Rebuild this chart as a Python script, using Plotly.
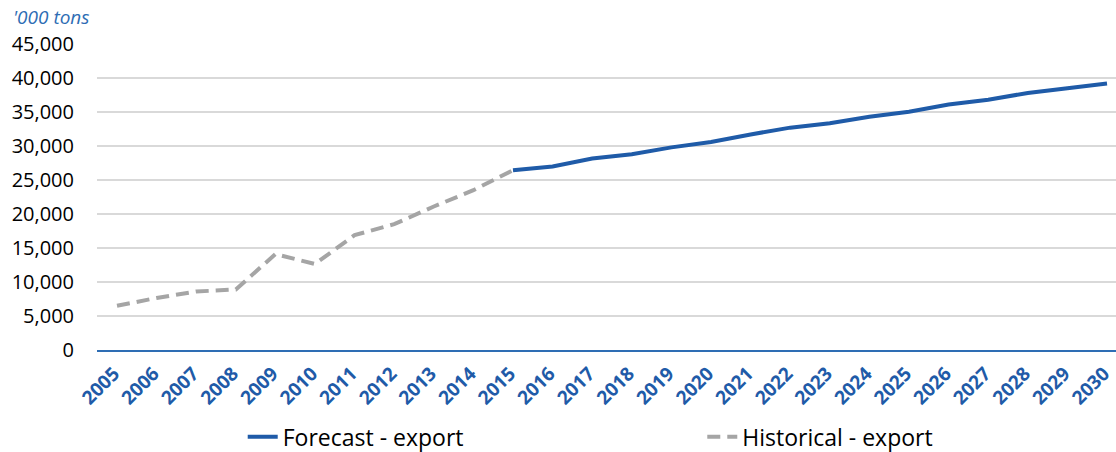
import plotly.graph_objects as go

hist_years = list(range(2005, 2016))
hist_values = [6500, 7650, 8600, 8900, 14100, 12650, 16900, 18500, 21100, 23500, 26450]

fc_years = list(range(2015, 2031))
fc_values = [26450, 27000, 28150, 28800, 29800, 30600, 31700, 32700, 33350, 34300,
             35050, 36100, 36800, 37800, 38500, 39200]

year_ticks = list(range(2005, 2031))
y_ticks = list(range(0, 45001, 5000))
y_tick_text = [f"{v:,}" for v in y_ticks]

BLUE = "#1F5BA8"
GRAY = "#A5A5A5"
FONT = "Open Sans"

fig = go.Figure()
fig.add_trace(go.Scatter(
    x=hist_years, y=hist_values, mode="lines", name="Historical - export",
    line=dict(color=GRAY, width=4, dash="13px,7px"), legend="legend2",
))
fig.add_trace(go.Scatter(
    x=fc_years, y=fc_values, mode="lines", name="Forecast - export",
    line=dict(color=BLUE, width=4), legend="legend",
))

legend_common = dict(
    orientation="h", xanchor="left", y=-0.284, yanchor="middle",
    font=dict(size=23, family=FONT, color="black"),
    bgcolor="rgba(0,0,0,0)",
)

fig.update_layout(
    width=1116, height=452,
    margin=dict(l=97, r=0, t=44, b=102, autoexpand=False),
    paper_bgcolor="white", plot_bgcolor="white",
    font=dict(family=FONT, color="black"),
    showlegend=True,
    legend=dict(x=0.143, **legend_common),
    legend2=dict(x=0.594, **legend_common),
    xaxis=dict(
        range=[2004.495, 2030.227], tickmode="array", tickvals=year_ticks,
        ticktext=[str(y) for y in year_ticks], tickangle=-45,
        tickfont=dict(size=19, family=FONT, color=BLUE, weight="bold"),
        showgrid=False, zeroline=False, showline=True, linecolor="#2E6DB4", linewidth=2,
        ticks="", automargin=False, ticklabeloverflow="allow", ticklabelstandoff=3,
        ticklabelshift=-3,
    ),
    yaxis=dict(
        range=[0, 45000], tickmode="array", tickvals=y_ticks, ticktext=y_tick_text,
        tickfont=dict(size=20, family=FONT, color="black"),
        showgrid=True, gridcolor="#D9D9D9", gridwidth=1.5, zeroline=False,
        ticklabelstandoff=22, automargin=False,
    ),
    annotations=[dict(
        text="'000 tons", xref="paper", yref="paper",
        x=-0.084, y=1.0, xanchor="left", yanchor="bottom", yshift=12,
        showarrow=False, font=dict(size=19, family=FONT, color="#2E6DB4", style="italic"),
    )],
)

fig.write_html("out.html")
